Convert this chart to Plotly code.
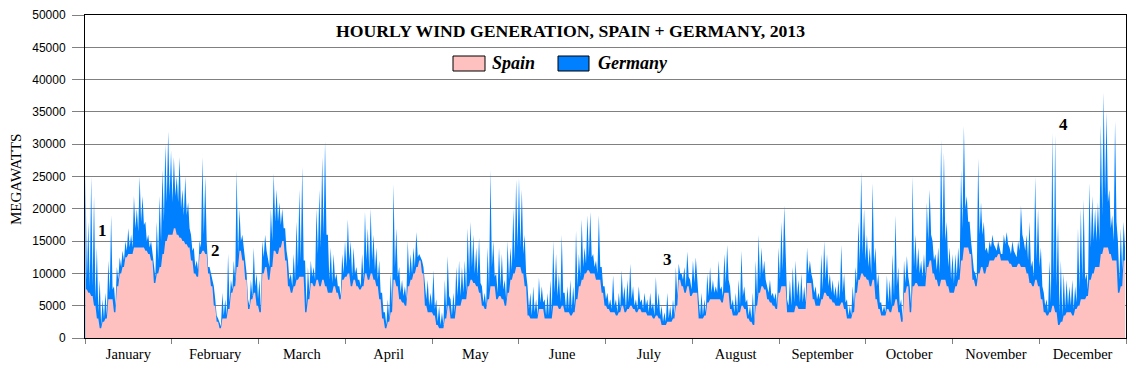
import plotly.graph_objects as go

# ---- data (thousands of MW, one entry per day of 2013) ----
# top edge of the stacked area (Spain + Germany): daily high and daily low
total_hi = [
    25.5, 18, 25, 22, 14, 9, 6, 7, 12, 19,
    8, 11, 12.5, 13.5, 15, 17, 16, 22, 20, 25,
    22, 18, 16, 15, 12, 18, 22, 26, 30, 32,
    29, 28, 25, 28, 23, 25, 21, 16, 14, 12,
    15, 28, 25, 11, 10, 8, 3.5, 2.5, 7, 6,
    13, 9, 12, 26, 20, 16, 12, 6, 9, 14,
    10, 9, 15, 16, 12, 20, 25.5, 23, 21, 20,
    17, 12, 10, 13, 18, 23, 26.5, 12, 11, 12,
    11, 20, 23, 28, 30.5, 16, 14, 13, 10, 8,
    13, 15, 18.4, 15, 14, 11, 9, 13, 19.5, 17,
    20, 16, 14, 12, 7, 4, 6, 10, 23.8, 17,
    11, 9, 8, 15, 13, 14, 16.4, 13, 12, 8,
    9, 7, 10.5, 6, 5, 4, 9, 12.7, 6, 7,
    11, 12, 11, 12, 17, 18, 16, 14, 15.5, 8,
    7, 14, 26, 15, 10, 14, 13, 9, 15, 14,
    20, 24.5, 24.8, 23, 16, 8, 7, 8, 6, 9.4,
    8, 6, 7, 9, 15, 13, 10, 16, 7, 8,
    9, 8, 16.6, 13, 18.4, 14, 19, 19.5, 13, 12,
    19, 11, 8, 7, 6, 9.7, 6, 7, 10.5, 8,
    9, 11.5, 8, 6, 8, 6, 7, 6, 7, 5.5,
    9.5, 7, 5, 4, 7, 5, 6, 11, 11.5, 10,
    11, 13.4, 9, 12, 12.5, 6, 7, 6, 10, 11,
    9, 8, 12, 8, 13, 14.4, 8, 6, 7, 9,
    13.5, 8, 6, 5, 7, 12, 16, 14, 12, 8,
    9, 7, 7, 14, 18, 20.5, 6, 9, 11, 12,
    9, 10, 8, 14, 12, 9, 8, 7, 13, 15,
    13, 10, 9, 8, 9, 14.4, 10, 6, 5, 8,
    11, 18, 25.7, 20, 16, 14, 24, 14, 10, 5.5,
    5, 9.7, 9, 13, 19, 11, 6, 12, 12.7, 8,
    25, 16, 14, 12, 13, 21, 23, 15, 13, 14,
    30.7, 28.7, 18, 14, 13, 13, 14, 26, 32.8, 22,
    18, 12, 10, 27.8, 21, 18, 14, 15, 16, 14,
    15, 13, 16, 16.4, 14, 15, 13, 15, 20.5, 15,
    16, 18, 12, 25, 20, 14, 7, 6, 12, 31.8,
    31.5, 18, 12, 10, 9, 8, 9, 8, 17, 20,
    21.4, 10, 24, 22, 20, 21, 33, 38, 35, 23,
    19, 33.6, 15, 17, 18,
]
total_lo = [
    9, 8, 8, 6, 4, 2, 3, 3.5, 7, 7.5,
    5, 9, 11, 12, 13.5, 14, 14, 17, 16.5, 18,
    17.5, 15, 14, 13, 9.5, 12, 15, 18, 21, 22,
    21, 22, 21, 20, 19, 19, 17, 13.5, 11, 10.5,
    14, 16, 15, 11, 9, 6, 3, 1.8, 3.5, 3.5,
    5.5, 7.5, 9, 13, 15, 13.5, 10, 5, 6.5, 8,
    6, 4.5, 12.5, 13.5, 11, 15, 18, 18, 17.5, 17,
    13.5, 9, 8, 9, 11, 12, 12, 5, 7, 9.5,
    9, 13, 14, 16, 16, 9, 8.5, 9, 8, 6.5,
    10, 11, 12, 9.5, 10, 9, 8, 9, 12, 10.5,
    12, 10.5, 9, 7, 4, 2, 3, 5, 11, 9.5,
    7, 6.5, 6, 9.5, 10, 11, 12.5, 12.5, 11, 6,
    5, 5, 4.5, 2.5, 2, 2, 4, 6.5, 3.5, 4,
    6.5, 6.5, 7, 7, 10, 11, 10, 9.5, 8.5, 5.5,
    5, 7.5, 11, 9.5, 7, 8, 7.5, 6, 9, 10.5,
    12, 14, 14, 13, 10, 4.5, 3.5, 4, 3.5, 5.5,
    5.5, 3.5, 3.5, 4, 7, 6.5, 5.5, 7, 4.5, 4.5,
    4.5, 5, 8, 9.5, 11, 11.5, 12.5, 12.5, 11, 10,
    11, 8, 6, 5, 4.5, 5, 4, 4.5, 6, 4.5,
    5.5, 6, 5, 4.5, 5.5, 4.5, 5, 4, 4.5, 3.5,
    4.5, 3.5, 2.5, 2.5, 3, 3, 3.5, 6.5, 10, 9,
    8, 9.5, 7.5, 8.5, 8.5, 3.5, 3.5, 4, 6.5, 7,
    7, 7, 7.5, 6.5, 8.5, 9, 5, 4, 4, 5,
    6.5, 5.5, 3.5, 3, 2.5, 6.5, 9, 10, 9, 7,
    6.5, 6, 5, 9, 10.5, 11, 5, 5, 5.5, 6.5,
    5.5, 5.5, 5.5, 10, 10, 7, 6, 6, 7.5, 9,
    8, 7, 6.5, 6, 6, 7, 5.5, 3.5, 3.5, 5,
    8.5, 11.5, 13, 12, 11, 10, 11.5, 8, 5.5, 4,
    4, 5.5, 5, 6.5, 8, 5, 3, 8.5, 9.5, 5,
    11, 10.5, 10, 9.5, 9.5, 15, 16, 12, 10.5, 10,
    15, 15, 11, 9, 8.5, 9.5, 10.5, 17, 20, 18,
    15, 10.5, 9, 16, 16, 13.5, 13, 14, 14.5, 13.5,
    14, 13, 14.5, 14.5, 13, 13.5, 12.5, 13.5, 16, 13.5,
    12, 11, 9.5, 12, 11, 8, 5, 4, 5.5, 9,
    8, 4, 3.5, 4.5, 5, 5, 4.5, 5.5, 7.5, 9,
    9, 7.5, 14, 15, 15, 15, 19, 22, 21, 17,
    15, 18, 9, 10.5, 14,
]
# Spain (bottom layer)
spain = [
    7.5, 7, 6.5, 5, 3, 1.5, 2.5, 3, 6, 6,
    4, 8, 10, 11, 12.5, 13, 13, 14, 14, 14,
    14, 13.5, 13, 12, 8.5, 10, 11, 13, 15, 16,
    16, 17, 16, 15.5, 15, 14.5, 14, 12, 10, 9.5,
    13, 13.5, 13, 10, 8, 5, 2.5, 1.5, 3, 3,
    4.5, 7, 8, 11, 13.5, 12, 9, 4.5, 6, 7,
    5, 4, 10, 11, 9, 11, 13.5, 13, 14, 15,
    12, 8, 7, 8, 9, 9.5, 9.5, 4, 6, 8.5,
    8, 9, 8, 9, 8, 7, 7, 8, 7, 6,
    9, 9.5, 10, 8, 9, 8, 7.5, 8, 10, 9,
    10, 9, 8, 6, 3, 1.5, 2.5, 4, 9, 8,
    6, 5.5, 5, 8, 9, 10, 11, 12, 10, 5,
    4, 4, 3.5, 2, 1.5, 1.5, 3, 5, 3, 3,
    5, 5, 6, 6, 8, 9, 8.5, 8, 7, 5,
    4.5, 6, 8, 8, 6, 6.5, 6, 5, 7, 9,
    10, 11, 11, 10, 8, 3.5, 3, 3, 3, 4.5,
    4.5, 3, 3, 3, 5, 5, 4.5, 5, 4, 4,
    3.5, 4, 6, 8, 9, 10, 10.5, 10, 10, 9,
    9, 7, 5, 4.5, 4, 4, 3.5, 4, 5, 4,
    4.5, 5, 4.5, 4, 4.5, 4, 4, 3.5, 3.5, 3,
    3.5, 3, 2, 2, 2.5, 2.5, 3, 5, 9, 8,
    7, 8, 6.5, 7, 7, 3, 3, 3.5, 5.5, 6,
    6, 6, 6, 5.5, 7, 7, 4.5, 3.5, 3.5, 4,
    5, 4.5, 3, 2.5, 2, 5, 7, 8, 7.5, 6,
    5.5, 5, 4.5, 7, 8, 8, 4, 4, 4, 5,
    4.5, 4.5, 4.5, 8.5, 8.5, 6, 5, 5, 6, 7,
    6.5, 6, 5.5, 5, 5, 5.5, 4.5, 3, 3, 4,
    7, 9, 10, 9.5, 9, 8, 9, 6, 4.5, 3.5,
    3.5, 4.5, 4, 5, 6, 4, 2.5, 7, 8, 4,
    8, 8.5, 8, 8, 8, 11, 12, 10, 9, 8,
    9, 9, 8, 7, 7, 8, 9, 12, 14, 14,
    13, 9, 8, 10, 11, 10, 11, 12, 12, 12.5,
    13, 12, 12, 12, 11.5, 11, 11, 11.5, 11, 11,
    10, 8.5, 8, 9, 8, 6, 4, 3.5, 4, 5,
    4, 2, 2.5, 3.5, 4, 4, 3.5, 4.5, 5, 6,
    6, 6.5, 9, 10, 11, 11, 13, 14, 14, 13,
    12, 12, 7, 8, 12,
]
months = ["January", "February", "March", "April", "May", "June", "July",
          "August", "September", "October", "November", "December"]
y_ticks = list(range(0, 50001, 5000))
notes = [("1", 151, 16600), ("2", 1102, 13500), ("3", 4898, 12100), ("4", 8230, 33100)]

assert len(total_hi) == len(total_lo) == len(spain) == 365

HOURS = 8760
SPAIN_C = "#FFC0C0"
GER_C = "#0080FF"

# build hourly x positions (hour index within the year)
tx, ty, sx, sy = [], [], [], []
for d in range(365):
    tx += [24 * d + 4, 24 * d + 16]
    ty += [total_hi[d] * 1000, total_lo[d] * 1000]
    sx += [24 * d + 4, 24 * d + 16]
    sy += [spain[d] * 1000, spain[d] * 1000]

fig = go.Figure()
fig.add_trace(go.Scatter(x=tx, y=ty, mode="lines", line=dict(width=0),
                         fill="tozeroy", fillcolor=GER_C, name="Germany",
                         showlegend=False, hoverinfo="skip"))
fig.add_trace(go.Scatter(x=sx, y=sy, mode="lines", line=dict(width=0),
                         fill="tozeroy", fillcolor=SPAIN_C, name="Spain",
                         showlegend=False, hoverinfo="skip"))

# page layout (the page body has an 8px margin, so the figure starts at 8,8)
OFF = 8
PAGE_W, PAGE_H = 1147, 372
PLOT_L, PLOT_R, PLOT_T, PLOT_B = 85, 1126, 15, 338   # plot area in page pixels
FIG_W, FIG_H = PAGE_W - 2 * OFF, PAGE_H - 2 * OFF
PW, PH = PLOT_R - PLOT_L, PLOT_B - PLOT_T


def px(x):
    return (x - PLOT_L) / PW


def py(y):
    return (PLOT_B - y) / PH


serif = "Liberation Serif"
annotations = [
    dict(text="<b>HOURLY WIND GENERATION, SPAIN + GERMANY, 2013</b>",
         x=px(570), y=py(31), xref="paper", yref="paper", showarrow=False,
         xanchor="center", yanchor="middle",
         font=dict(family=serif, size=17.7, color="black")),
    dict(text="<b><i>Spain</i></b>", x=px(490), y=py(63.5), xref="paper", yref="paper",
         showarrow=False, xanchor="left", yanchor="middle",
         font=dict(family=serif, size=18, color="black")),
    dict(text="<b><i>Germany</i></b>", x=px(596), y=py(63.5), xref="paper", yref="paper",
         showarrow=False, xanchor="left", yanchor="middle",
         font=dict(family=serif, size=18, color="black")),
    dict(text="MEGAWATTS", x=px(16), y=py(180), xref="paper", yref="paper",
         showarrow=False, textangle=-90, xanchor="center", yanchor="middle",
         font=dict(family=serif, size=15, color="black")),
]
for label, hx, my in notes:
    annotations.append(dict(text=f"<b>{label}</b>", x=hx, y=my, xref="x", yref="y",
                            showarrow=False, xanchor="center", yanchor="middle",
                            font=dict(family=serif, size=17, color="black")))

shapes = [
    dict(type="rect", xref="paper", yref="paper", x0=px(453), x1=px(485),
         y0=py(71), y1=py(56), fillcolor=SPAIN_C, line=dict(color="black", width=1)),
    dict(type="rect", xref="paper", yref="paper", x0=px(558), x1=px(589),
         y0=py(71), y1=py(56), fillcolor=GER_C, line=dict(color="black", width=1)),
]

fig.update_layout(
    width=FIG_W, height=FIG_H,
    margin=dict(l=PLOT_L - OFF, r=PAGE_W - OFF - PLOT_R,
                t=PLOT_T - OFF, b=PAGE_H - OFF - PLOT_B, autoexpand=False),
    paper_bgcolor="white", plot_bgcolor="white",
    showlegend=False, annotations=annotations, shapes=shapes,
    xaxis=dict(range=[0, HOURS], tickmode="array", automargin=False,
               tickvals=[730 * i + 365 for i in range(12)], ticktext=months,
               ticks="", showgrid=False, zeroline=False, ticklabelstandoff=3,
               showline=True, linecolor="black", linewidth=1, mirror=True,
               tickfont=dict(family=serif, size=14.5, color="black"),
               minor=dict(tickmode="array", tickvals=[730 * i for i in range(13)],
                          ticks="outside", ticklen=5, tickcolor="#808080",
                          showgrid=False)),
    yaxis=dict(range=[0, 50000], tickmode="array", tickvals=y_ticks, automargin=False,
               ticktext=[str(v) for v in y_ticks], ticklabelstandoff=4,
               ticks="outside", ticklen=12, tickcolor="#808080",
               showgrid=True, gridcolor="#808080", gridwidth=1, zeroline=False,
               showline=True, linecolor="black", linewidth=1, mirror=True,
               tickfont=dict(family="Liberation Sans", size=12, color="black")),
)

fig.write_html("out.html")
